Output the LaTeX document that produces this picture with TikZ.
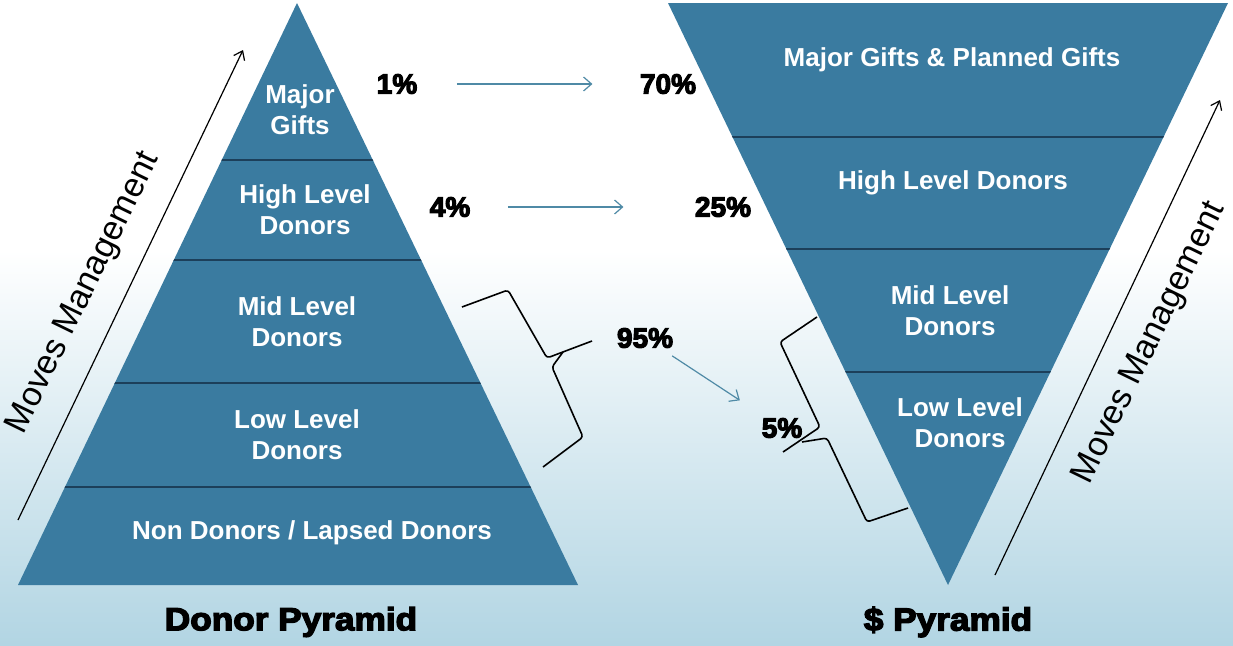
\documentclass[tikz,border=0pt]{standalone}
\usepackage{fontspec}
\setmainfont{Liberation Sans}
\newfontfamily\heavyfont[RawFeature={embolden=4}]{Liberation Sans Bold}
\usetikzlibrary{positioning,arrows.meta}

\definecolor{pyrblue}{HTML}{3A7BA0}
\definecolor{pyrdark}{HTML}{1C3F5A}
\definecolor{flowgray}{HTML}{4F8AA6}
\definecolor{bgblue}{HTML}{B2D5E3}

\tikzset{
  layer/.style={fill=pyrblue},
  divider/.style={draw=pyrdark, line width=1.6pt},
  tier/.style={text=white, font=\fontsize{26}{31}\selectfont\bfseries, align=center},
  pct/.style={font=\fontsize{28}{30}\heavyfont},
  flow/.style={-{Straight Barb[length=8pt,width=14pt]}, draw=flowgray, line width=1.2pt},
  moves/.style={font=\fontsize{34}{36}\selectfont},
  title/.style={font=\fontsize{32}{36}\heavyfont},
  brace/.style={draw=black, line width=1.6pt, rounded corners=3pt},
}

\begin{document}
\begin{tikzpicture}[x=1pt, y=-1pt]
    \useasboundingbox (0,0) rectangle (1233,645);
    % Fond
    \fill[white] (0,0) rectangle (1233,645);
    \shade[top color=white, bottom color=bgblue] (0,250) rectangle (1233,645);

    % Pyramide des donateurs
    \coordinate (dapex) at (297,3);
    \coordinate (dleft) at (18,585);
    \coordinate (dright) at (578,585);
    \fill[layer] (dapex) -- (dright) -- (dleft) -- cycle;
    \begin{scope}
        \clip (dapex) -- (dright) -- (dleft) -- cycle;
        \foreach \y in {160,260,383,487}
            \draw[divider] (0,\y) -- (600,\y);
    \end{scope}

    % Pyramide des dollars
    \coordinate (sleft) at (668,3);
    \coordinate (sright) at (1228,3);
    \coordinate (sapex) at (948,585);
    \fill[layer] (sleft) -- (sright) -- (sapex) -- cycle;
    \begin{scope}
        \clip (sleft) -- (sright) -- (sapex) -- cycle;
        \foreach \y in {137,249,372}
            \draw[divider] (650,\y) -- (1233,\y);
    \end{scope}

    % Niveaux
    \node[tier] (dmajor) at (300,110) {Major\\Gifts};
    \node[tier] (dhigh) at (305,210) {High Level\\Donors};
    \node[tier] (dmid) at (297,322) {Mid Level\\Donors};
    \node[tier] (dlow) at (297,435) {Low Level\\Donors};
    \node[tier] (dnon) at (312,533) {Non Donors / Lapsed Donors};

    \node[tier] (smajor) at (952,60) {Major Gifts \& Planned Gifts};
    \node[tier] (shigh) at (953,183) {High Level Donors};
    \node[tier] (smid) at (950,311) {Mid Level\\Donors};
    \node[tier] (slow) at (960,423) {Low Level\\Donors};

    % Pourcentages
    \node[pct] (p1) at (397,84) {1\%};
    \node[pct] (p4) at (450,207) {4\%};
    \node[pct] (p95) at (645,338) {95\%};
    \node[pct] (p70) at (668,84) {70\%};
    \node[pct] (p25) at (723,207) {25\%};
    \node[pct] (p5) at (782,428) {5\%};

    \draw[flow, shorten <=36pt, shorten >=44pt] (p1) -- (p70);
    \draw[flow, shorten <=34pt, shorten >=68pt] (p4) -- (p25);
    \draw[flow, shorten <=8pt, shorten >=26pt] (p95) -- (p5);

    % Accolades
    \draw[brace] (462,307) -- (508,290) -- (547,358) -- (592,341);
    \draw[brace] (563,352) -- (552,367) -- (583,437) -- (543,467);
    \draw[brace] (817,317) -- (780,342) -- (820,427) -- (783,452);
    \draw[brace] (802,442) -- (827,438) -- (867,522) -- (908,508);

    % Moves management
    \coordinate (mlfrom) at (18,520);
    \coordinate (mlto) at (243,50);
    \coordinate (mrfrom) at (995,575);
    \coordinate (mrto) at (1220,100);
    \draw[-{Straight Barb[length=8pt,width=12pt]}, line width=1.2pt] (mlfrom) -- (mlto);
    \draw[-{Straight Barb[length=8pt,width=12pt]}, line width=1.2pt] (mrfrom) -- (mrto);
    \node[moves, rotate=64] (mleft) at (84,293) {Moves Management};
    \node[moves, rotate=64] (mright) at (1150,343) {Moves Management};

    % Titres
    \node[title] (dtitle) at (291,622) {\scalebox{1.1}[1]{Donor Pyramid}};
    \node[title] (stitle) at (948,622) {\scalebox{1.1}[1]{\$ Pyramid}};
\end{tikzpicture}
\end{document}
